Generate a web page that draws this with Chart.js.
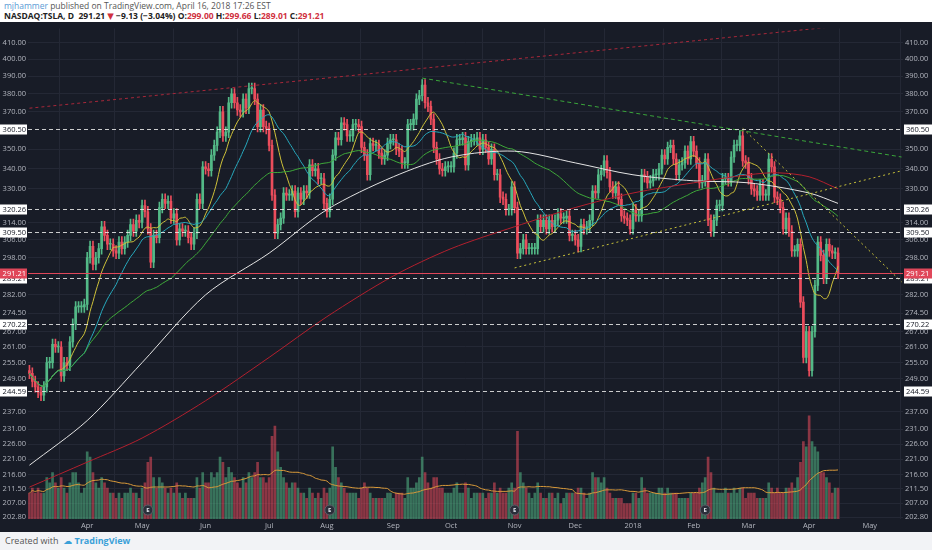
<!DOCTYPE html>
<html>
<head>
<meta charset="utf-8">
<script src="https://cdn.jsdelivr.net/npm/chart.js@4.4.1/dist/chart.umd.min.js"></script>
<style>
  html, body { margin: 0; padding: 0; background: #fff; font-family: "Open Sans", "DejaVu Sans", sans-serif; }
  #page { width: 932px; height: 550px; position: relative; overflow: hidden; }
  #head { height: 22px; font-size: 8.5px; line-height: 10px; padding-left: 4px; padding-top: 1px; box-sizing: border-box; color: #555; }
  #head .who { color: #5b9bd5; }
  #head .l2 { font-weight: bold; color: #222; }
  #head .rd { color: #d0313f; }
  #wrap { width: 932px; height: 510px; background: #181c27; }
  #foot { height: 18px; background: #f2f3f6; font-size: 9px; color: #555; line-height: 18px; padding-left: 5px; }
  #foot b { color: #3aa0d8; font-weight: bold; }
</style>
</head>
<body>
<div id="page">
  <div id="head">
    <div><span class="who">mjhammer</span> published on TradingView.com, April 16, 2018 17:26 EST</div>
    <div class="l2">NASDAQ:TSLA, D &nbsp;291.21 <span class="rd">▼</span> −9.13 (−3.04%) O:<span class="rd">299.00</span> H:<span class="rd">299.66</span> L:<span class="rd">289.01</span> C:<span class="rd">291.21</span></div>
  </div>
  <div id="wrap"><canvas id="chart" width="932" height="510"></canvas></div>
  <div id="foot">Created with &nbsp;<b>☁ TradingView</b></div>
</div>
<script>
// daily closes, one row per week, from 2017-03-06
const closes = [
  251, 248, 246, 244, 243,
  246, 255, 255, 262, 261,
  261, 250, 255, 254, 263,
  270, 277, 277, 277, 278,
  298, 303, 295, 298, 302,
  312, 308, 304, 304,
  301, 300, 305, 302, 305,
  308, 313, 310, 315, 314,
  322, 319, 311, 296, 308,
  307, 321, 325, 323, 324,
  316, 318, 306, 311, 310,
  310, 307, 304, 309, 325,
  323, 341, 340, 339,
  347, 352, 359, 370, 357,
  359, 375, 380, 375, 371,
  370, 377, 372, 383, 383,
  377, 362, 371, 362, 361,
  352, 327, 309, 313,
  316, 328, 327, 327, 329,
  319, 328, 325, 329, 328,
  342, 339, 340, 335, 335,
  323, 319, 325, 347, 356,
  355, 364, 363, 357, 357,
  363, 363, 362, 351, 347,
  337, 353, 352, 352, 348,
  345, 347, 353, 355, 355,
  350, 349, 343, 343,
  363, 363, 366, 377, 379,
  385, 375, 373, 366, 351,
  345, 340, 339, 341, 341,
  341, 348, 355, 355, 356,
  342, 354, 355, 355, 356,
  350, 355, 351, 345, 350,
  337, 337, 326, 325, 320,
  320, 331, 321, 300, 302,
  306, 302, 302, 302, 302,
  315, 312, 315, 311, 315,
  312, 315, 318, 316,
  316, 317, 308, 308, 306,
  303, 313, 311, 312, 315,
  329, 328, 337, 339, 344,
  338, 331, 328, 331, 325,
  317, 316, 315, 311,
  320, 317, 317, 337,
  336, 333, 334, 337, 337,
  340, 347, 345, 351,
  352, 345, 337, 342, 343,
  349, 345, 354, 349, 343,
  333, 334, 345, 315, 310,
  315, 322, 322, 335, 335,
  334, 346, 352, 352,
  357, 344, 343, 335, 330,
  329, 327, 332, 327, 327,
  345, 341, 326, 325, 321,
  311, 316, 310, 301, 301,
  304, 279, 257, 267,
  252, 267, 286, 305, 299,
  289, 304, 301, 300, 300,
  291.21
];
// daily volume in millions, same rows
const volumes = [
  5, 6, 5, 6, 5,
  5, 8, 7, 9, 7,
  6, 8, 6, 5, 7,
  9, 9, 7, 5, 6,
  13, 12, 9, 7, 6,
  8, 7, 6, 5,
  5, 4, 5, 4, 5,
  5, 6, 5, 5, 4,
  6, 7, 11, 12, 8,
  6, 8, 7, 6, 5,
  6, 5, 7, 5, 4,
  5, 4, 4, 4, 8,
  6, 9, 7, 7,
  9, 8, 9, 12, 11,
  8, 10, 9, 8, 7,
  6, 8, 7, 9, 8,
  9, 11, 8, 8, 7,
  8, 16, 18, 13,
  10, 8, 7, 6, 7,
  7, 6, 5, 5, 4,
  6, 5, 4, 5, 4,
  6, 5, 6, 14, 10,
  8, 7, 6, 5, 5,
  5, 5, 4, 6, 7,
  6, 5, 4, 4, 4,
  4, 4, 5, 5, 4,
  5, 5, 5, 4,
  8, 6, 6, 7, 8,
  12, 9, 7, 6, 8,
  8, 6, 6, 5, 5,
  5, 6, 7, 5, 5,
  7, 6, 4, 5, 5,
  5, 5, 4, 5, 5,
  7, 5, 6, 5, 5,
  6, 7, 6, 17, 9,
  7, 6, 5, 4, 5,
  7, 5, 4, 4, 5,
  5, 4, 5, 3,
  4, 5, 5, 5, 5,
  6, 6, 5, 4, 5,
  9, 8, 8, 7, 8,
  6, 5, 4, 4, 4,
  4, 3, 3, 3,
  5, 5, 4, 8,
  6, 5, 5, 5, 5,
  6, 6, 5, 6,
  5, 5, 5, 4, 4,
  4, 4, 5, 5, 5,
  6, 7, 8, 12, 9,
  6, 5, 5, 5, 6,
  5, 5, 6, 5,
  6, 6, 4, 5, 5,
  5, 4, 4, 4, 4,
  7, 6, 5, 6, 5,
  5, 6, 6, 7, 6,
  8, 11, 15, 14,
  20, 15, 14, 13, 9,
  9, 8, 7, 5, 6,
  6
];
const holidays = ['2017-04-14', '2017-05-29', '2017-07-04', '2017-09-04', '2017-11-23',
  '2017-12-25', '2018-01-01', '2018-01-15', '2018-02-19', '2018-03-30'];
const futureDays = 22;

// 100 and 200 day averages (history before the window is not shown)
const ma100Dates = ['2017-03-06', '2017-04-03', '2017-05-01', '2017-06-01', '2017-07-03', '2017-08-01', '2017-09-01',
  '2017-10-02', '2017-11-01', '2017-12-01', '2018-01-02', '2018-02-01', '2018-03-01', '2018-04-02', '2018-04-16'];
const ma100Vals = [219, 234, 255, 282, 300, 320, 336, 346, 349, 343, 337, 334, 333, 328, 323];
const ma200Dates = ['2017-03-06', '2017-04-03', '2017-05-01', '2017-06-01', '2017-07-03', '2017-08-01', '2017-09-01',
  '2017-10-02', '2017-11-01', '2017-12-01', '2018-01-02', '2018-02-01', '2018-03-01', '2018-03-15', '2018-04-02', '2018-04-16'];
const ma200Vals = [212, 220, 228, 241, 257, 273, 290, 302, 312, 321, 328, 333, 337, 338, 336, 330];

const levels = [360.50, 320.26, 309.50, 289.21, 270.22, 244.59];
const lastPrice = 291.21;
const priceTicks = [410, 400, 390, 380, 370, 350, 340, 330, 314, 306, 298, 282, 274.5, 267, 261, 255,
  249, 237, 231, 226, 221, 216, 211.5, 207, 202.8];
const earnings = ['2017-05-03', '2017-08-02', '2017-11-01', '2018-02-07'];
const monthNames = ['2018', 'Feb', 'Mar', 'Apr', 'May', 'Jun', 'Jul', 'Aug', 'Sep', 'Oct', 'Nov', 'Dec'];

// trend lines: [date, price] pairs
const trendRed = [['2017-03-06', 372], ['2018-04-23', 421]];
const trendGreen = [['2017-09-18', 389], ['2018-05-16', 346]];
const trendYellowUp = [['2017-11-01', 293.5], ['2018-05-16', 339]];
const trendYellowDown = [['2018-02-27', 361], ['2018-05-16', 287.5]];

// trading day labels
const labels = [];
{
  const d = new Date(Date.UTC(2017, 2, 6));
  while (labels.length < closes.length + futureDays) {
    const s = d.toISOString().slice(0, 10);
    const wd = d.getUTCDay();
    if (wd !== 0 && wd !== 6 && !holidays.includes(s)) labels.push(s);
    d.setUTCDate(d.getUTCDate() + 1);
  }
}
const monthStart = new Set();
labels.forEach((s, i) => { if (i > 0 && s.slice(5, 7) !== labels[i - 1].slice(5, 7)) monthStart.add(i); });

function sma(arr, n) {
  return arr.map((v, i) => {
    const part = arr.slice(Math.max(0, i - n + 1), i + 1);
    return part.reduce((a, b) => a + b, 0) / part.length;
  });
}

const opens = closes.map((c, i) => i === 0 ? 252 : closes[i - 1]);
const up = closes.map((c, i) => c >= opens[i]);
const GREEN = '#53b987', RED = '#eb4d5c';
const bodies = closes.map((c, i) => [opens[i], c]);
const wicks = closes.map((c, i) => [Math.min(opens[i], c) * 0.992, Math.max(opens[i], c) * 1.008]);
const candleColors = up.map(u => u ? GREEN : RED);
const volColors = up.map(u => u ? 'rgba(83,185,135,0.55)' : 'rgba(235,77,92,0.55)');

const pts = (dates, vals) => dates.map((d, i) => ({ x: d, y: vals[i] }));
const pairPts = p => p.map(([d, v]) => ({ x: d, y: v }));
const lineDs = (data, color, extra) => Object.assign({
  type: 'line', data, borderColor: color, borderWidth: 1, pointRadius: 0, tension: 0.3,
  fill: false, yAxisID: 'y', spanGaps: true, order: 3
}, extra || {});

function priceAxis(position) {
  return {
    type: 'logarithmic', position, min: 202.2, max: 418.7,
    afterBuildTicks: s => { s.ticks = priceTicks.map(v => ({ value: v })); },
    afterFit: s => { s.width = position === 'right' ? 29 : 28; },
    ticks: { color: '#b2b5be', font: { size: 7.5, family: 'Open Sans' }, padding: 2,
      callback: v => Number(v).toFixed(2) },
    grid: { color: position === 'right' ? '#242835' : 'transparent', drawTicks: false },
    border: { display: false }
  };
}

const overlay = {
  id: 'overlay',
  afterDatasetsDraw(chart) {
    const { ctx, chartArea: a, scales } = chart;
    const y = scales.y, x = scales.x;
    ctx.save();
    ctx.font = '7.5px "Open Sans"';
    ctx.textBaseline = 'middle';
    levels.forEach(v => {
      const py = Math.round(y.getPixelForValue(v)) + 0.5;
      ctx.strokeStyle = 'rgba(235,235,235,0.85)';
      ctx.lineWidth = 1;
      ctx.setLineDash([4, 3]);
      ctx.beginPath(); ctx.moveTo(a.left, py); ctx.lineTo(a.right, py); ctx.stroke();
      ctx.setLineDash([]);
      ctx.fillStyle = '#fff';
      ctx.fillRect(a.right + 1, py - 5, 28, 10);
      ctx.fillRect(0, py - 5, a.left - 1, 10);
      ctx.fillStyle = '#131722';
      ctx.textAlign = 'left';
      ctx.fillText(v.toFixed(2), a.right + 3, py);
      ctx.textAlign = 'right';
      ctx.fillText(v.toFixed(2), a.left - 2, py);
    });
    const py = Math.round(y.getPixelForValue(lastPrice)) + 0.5;
    ctx.strokeStyle = '#e0475a';
    ctx.beginPath(); ctx.moveTo(a.left, py); ctx.lineTo(a.right, py); ctx.stroke();
    ctx.fillStyle = '#e0475a';
    ctx.fillRect(a.right + 1, py - 5, 28, 10);
    ctx.fillRect(0, py - 5, a.left - 1, 10);
    ctx.fillStyle = '#fff';
    ctx.textAlign = 'left';
    ctx.fillText(lastPrice.toFixed(2), a.right + 3, py);
    ctx.textAlign = 'right';
    ctx.fillText(lastPrice.toFixed(2), a.left - 2, py);
    // earnings markers
    earnings.forEach(d => {
      const px = x.getPixelForValue(labels.indexOf(d));
      const cy = a.bottom - 9;
      ctx.beginPath(); ctx.arc(px, cy, 5, 0, Math.PI * 2);
      ctx.fillStyle = '#2b2f3a'; ctx.fill();
      ctx.strokeStyle = '#5d606b'; ctx.stroke();
      ctx.fillStyle = '#e0e3eb'; ctx.textAlign = 'center';
      ctx.font = 'bold 6px "Open Sans"';
      ctx.fillText('E', px, cy + 0.5);
      ctx.font = '7.5px "Open Sans"';
    });
    ctx.restore();
  }
};

new Chart(document.getElementById('chart'), {
  data: {
    labels,
    datasets: [
      { type: 'bar', data: volumes, yAxisID: 'v', backgroundColor: volColors, barThickness: 2, grouped: false, order: 10 },
      lineDs(sma(volumes, 20), '#d99a3a', { yAxisID: 'v', order: 9 }),
      { type: 'bar', data: wicks, yAxisID: 'y', backgroundColor: candleColors, barThickness: 1, grouped: false, order: 6 },
      { type: 'bar', data: bodies, yAxisID: 'y', backgroundColor: candleColors, barThickness: 2, grouped: false, order: 5, minBarLength: 1 },
      lineDs(pts(ma200Dates, ma200Vals), '#b3202e'),
      lineDs(pts(ma100Dates, ma100Vals), '#e4e4e4'),
      lineDs(sma(closes, 50), '#3faa3a'),
      lineDs(sma(closes, 20), '#27a9bd'),
      lineDs(sma(closes, 10), '#cfc23a'),
      lineDs(pairPts(trendRed), '#a8283a', { borderDash: [3, 3], tension: 0, order: 2 }),
      lineDs(pairPts(trendGreen), '#3aa53a', { borderDash: [4, 3], tension: 0, order: 2 }),
      lineDs(pairPts(trendYellowUp), '#c8c23a', { borderDash: [2, 3], tension: 0, order: 2 }),
      lineDs(pairPts(trendYellowDown), '#c8c23a', { borderDash: [2, 3], tension: 0, order: 2 })
    ]
  },
  options: {
    responsive: false,
    animation: false,
    layout: { padding: { top: 2, bottom: 0 } },
    plugins: { legend: { display: false }, tooltip: { enabled: false } },
    scales: {
      x: {
        type: 'category', offset: true,
        afterBuildTicks: s => { s.ticks = s.ticks.filter(t => monthStart.has(t.value)); },
        ticks: { autoSkip: false, maxRotation: 0, color: '#b2b5be', font: { size: 7.5, family: 'Open Sans' }, padding: 2,
          callback: v => monthNames[Number(labels[v].slice(5, 7)) - 1] },
        grid: { color: '#242835', drawTicks: false },
        border: { display: false }
      },
      y: priceAxis('right'),
      yl: priceAxis('left'),
      v: { type: 'linear', display: false, min: 0, max: 95 }
    }
  },
  plugins: [overlay]
});
</script>
</body>
</html>
